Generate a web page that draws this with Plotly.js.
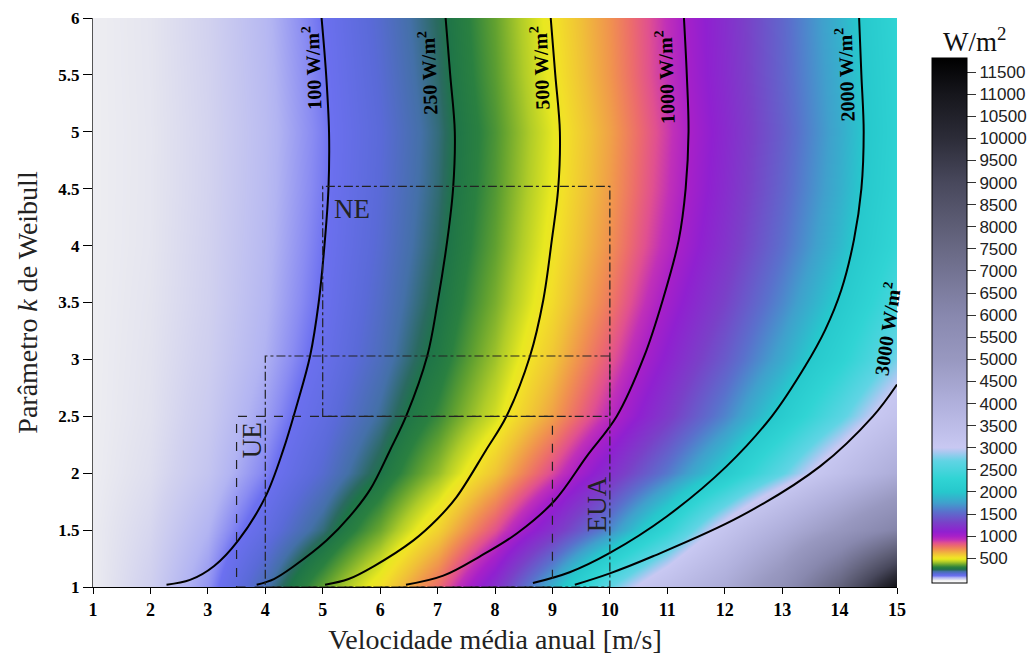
<!DOCTYPE html>
<html><head><meta charset="utf-8">
<script src="https://cdn.plot.ly/plotly-3.0.1.min.js"></script>
<style>html,body{margin:0;padding:0;background:#fff;} #chart{width:1036px;height:657px;}</style>
</head><body><div id="chart"></div>
<script>
// ---------- data ----------
const velocity = [1,2,3,4,5,6,7,8,9,10,11,12,13,14,15];
const weibullK = [1,1.5,2,2.5,3,3.5,4,4.5,5,5.5,6];
const powerK1_0 = [3, 28, 80, 190, 350, 520, 780, 1200, 1850, 2700, 3400, 4200, 5500, 7800, 11200];
const powerK1_5 = [3.5, 21, 60, 127, 223, 361, 557, 843, 1211, 1666, 2302, 3196, 4063, 5075, 6241];
const powerK2_0 = [2, 14, 41, 90, 160, 254, 395, 590, 864, 1195, 1588, 2061, 2674, 3368, 4142];
const powerK2_5 = [1.7, 11, 34, 73, 131, 208, 314, 457, 665, 943, 1262, 1637, 2090, 2640, 3267];
const powerK3_0 = [1.5, 10, 29, 62, 113, 180, 272, 405, 585, 833, 1123, 1440, 1808, 2246, 2762];
const powerK3_5 = [1.4, 9, 26, 57, 104, 168, 250, 372, 532, 753, 1026, 1315, 1652, 2044, 2514];
const powerK4_0 = [1.3, 8, 25, 54, 99, 158, 235, 350, 503, 702, 947, 1223, 1540, 1906, 2338];
const powerK4_5 = [1.25, 7.7, 24, 52, 95, 152, 226, 337, 484, 676, 912, 1180, 1488, 1845, 2268];
const powerK5_0 = [1.2, 7.6, 23.6, 51, 93, 149, 222, 331, 475, 663, 895, 1161, 1460, 1820, 2240];
const powerK5_5 = [1.3, 8, 24.5, 53, 97, 155, 231, 344, 494, 688, 920, 1182, 1488, 1840, 2260];
const powerK6_0 = [1.3, 8.3, 25.5, 55, 101, 161, 238, 353, 505, 698, 925, 1191, 1500, 1866, 2289];

// iso-power lines (v, k)
const contourLevels = [100, 250, 500, 1000, 2000, 3000];
const c100V  = [2.28, 2.69, 3.11, 3.53, 4.0, 4.31, 4.55, 4.78, 4.93, 5.03, 5.1, 5.11, 5.06, 4.98];
const c100K  = [1.02, 1.062, 1.185, 1.41, 1.79, 2.2, 2.6, 3.03, 3.5, 4.0, 4.5, 5.0, 5.5, 6.0];
const c250V  = [3.85, 4.15, 4.49, 5.07, 5.47, 5.83, 6.17, 6.46, 6.82, 7.0, 7.17, 7.27, 7.3, 7.22, 7.14];
const c250K  = [1.02, 1.07, 1.18, 1.41, 1.62, 1.86, 2.2, 2.51, 3.03, 3.5, 4.05, 4.5, 5.0, 5.5, 6.0];
const c500V  = [5.04, 5.45, 5.88, 6.58, 7.0, 7.33, 7.84, 8.2, 8.61, 8.84, 8.99, 9.1, 9.13, 9.05, 8.97];
const c500K  = [1.02, 1.07, 1.18, 1.41, 1.6, 1.79, 2.2, 2.5, 3.03, 3.52, 4.05, 4.5, 5.0, 5.5, 6.0];
const c1000V = [6.45, 7.1, 7.74, 8.38, 9.04, 9.6, 10.12, 10.6, 10.92, 11.2, 11.32, 11.37, 11.34, 11.29];
const c1000K = [1.02, 1.1, 1.27, 1.47, 1.76, 2.15, 2.5, 3.03, 3.52, 4.05, 4.5, 5.0, 5.5, 6.0];
const c2000V = [8.66, 9.3, 10.0, 10.99, 12.03, 12.82, 13.4, 13.75, 14.03, 14.25, 14.38, 14.42, 14.38, 14.34];
const c2000K = [1.035, 1.13, 1.30, 1.62, 2.06, 2.5, 2.94, 3.26, 3.61, 4.05, 4.5, 5.0, 5.5, 6.0];
const c3000V = [9.39, 10.0, 10.75, 12.27, 13.66, 14.58, 15.0];
const c3000K = [1.02, 1.12, 1.27, 1.62, 2.06, 2.5, 2.78];

// regions
const regionNames = ['NE', 'UE', 'EUA'];
const regionV0 = [5, 3.5, 4];
const regionV1 = [10, 9, 10];
const regionK0 = [2.5, 1, 1];
const regionK1 = [4.52, 2.5, 3.03];

// ticks
const xTicks = [1,2,3,4,5,6,7,8,9,10,11,12,13,14,15];
const yTicks = [1,1.5,2,2.5,3,3.5,4,4.5,5,5.5,6];
const cbTicks = [500,1000,1500,2000,2500,3000,3500,4000,4500,5000,5500,6000,6500,7000,7500,8000,8500,9000,9500,10000,10500,11000,11500];
const cbTickText = ['500','1000','1500','2000','2500','3000','3500','4000','4500','5000','5500','6000','6500','7000','7500','8000','8500','9000','9500','10000','10500','11000','11500'];

// ---------- colours ----------
const zMin = -60, zMax = 11820;
const csValues = [-60,0,10,25,60,85,100,150,200,235,255,300,350,420,480,520,600,700,780,850,920,1000,1100,1300,1550,1750,2000,2300,2700,2900,3000,4000,5000,6000,8000,9000,10000,11000,11820];
const csColors = ['#ffffff','#efeff2','#e3e3ef','#d2d2ef','#b2b4f2','#8a8cf2','#6c70f0','#5a6ad8','#4470a8','#2a6a60','#1e7448','#2a8040','#60a030','#b0cc28','#e8e820','#f2e028','#f0c038','#f09050','#ec6c6c','#e05090','#c030b8','#a820c8','#9020d0','#7a40c8','#5a70cc','#40a0cc','#26c8cc','#30d4d4','#60d4e4','#a8c8f0','#c8c8f2','#b0b0dc','#9898c0','#8888ae','#5e5e76','#48485c','#2c2c38','#16161c','#000000'];
const colorscale = csValues.map((v, i) => [(v - zMin) / (zMax - zMin), csColors[i]]);

const zGrid = [powerK1_0, powerK1_5, powerK2_0, powerK2_5, powerK3_0, powerK3_5, powerK4_0, powerK4_5, powerK5_0, powerK5_5, powerK6_0];

const serif = 'Liberation Serif, Times New Roman, serif';

const traces = [{
  type: 'heatmap', x: velocity, y: weibullK, z: zGrid,
  zmin: zMin, zmax: zMax, zsmooth: 'best', colorscale: colorscale, hoverinfo: 'skip',
  colorbar: {
    x: 1.0435, xanchor: 'left', xpad: 0, y: 0.4684, yanchor: 'middle', ypad: 0,
    len: 525, lenmode: 'pixels', thickness: 35, thicknessmode: 'pixels',
    outlinewidth: 1, outlinecolor: '#000', borderwidth: 0,
    tickmode: 'array', tickvals: cbTicks, ticktext: cbTickText, ticks: 'outside', ticklen: 9, tickcolor: '#333', tickwidth: 1,
    tickfont: {family: 'Liberation Sans, Arial, sans-serif', size: 17, color: '#222'}
  }
}];

const lineSets = [[c100V, c100K], [c250V, c250K], [c500V, c500K], [c1000V, c1000K], [c2000V, c2000K], [c3000V, c3000K]];
lineSets.forEach(([vx, ky]) => {
  traces.push({type: 'scatter', mode: 'lines', x: vx, y: ky, hoverinfo: 'skip', showlegend: false,
    line: {color: '#000', width: 2, shape: 'spline', smoothing: 1}});
});

// contour label placement (style, not data)
const labelPos = [[4.81, 5.56, -92], [6.82, 5.52, -92], [8.78, 5.56, -92], [10.96, 5.48, -92], [14.09, 5.5, -92], [14.81, 3.27, -82]];
const annotations = contourLevels.map((lv, i) => ({
  x: labelPos[i][0], y: labelPos[i][1], xref: 'x', yref: 'y', xanchor: 'center', yanchor: 'middle', showarrow: false,
  text: lv + ' W/m<sup>2</sup>', textangle: labelPos[i][2],
  font: {family: serif, size: 20, weight: 700, color: '#000'}
}));

const regionLabelPos = [[5.51, 4.32, 0], [3.77, 2.29, -90], [9.78, 1.73, -90]];
regionNames.forEach((nm, i) => {
  annotations.push({x: regionLabelPos[i][0], y: regionLabelPos[i][1], xref: 'x', yref: 'y', xanchor: 'center', yanchor: 'middle', showarrow: false,
    text: nm, textangle: regionLabelPos[i][2], font: {family: serif, size: 27, color: '#222'}});
});

annotations.push({x: 1.097, y: 0.9613, xref: 'paper', yref: 'paper', xanchor: 'center', yanchor: 'middle', showarrow: false,
  text: 'W/m<sup>2</sup>', font: {family: serif, size: 27, color: '#111'}});

const regionDash = ['dashdot', 'dash', 'dashdot'];
const shapes = regionNames.map((nm, i) => ({
  type: 'rect', xref: 'x', yref: 'y', x0: regionV0[i], x1: regionV1[i], y0: regionK0[i], y1: regionK1[i],
  line: {color: '#222', width: 1.2, dash: regionDash[i]}, fillcolor: 'rgba(0,0,0,0)', layer: 'above'
}));

const layout = {
  width: 1036, height: 657,
  margin: {l: 93, r: 139, t: 18, b: 70, pad: 0, autoexpand: false},
  paper_bgcolor: '#fff', plot_bgcolor: '#fff',
  showlegend: false,
  xaxis: {range: [1, 15], tickmode: 'array', tickvals: xTicks, ticks: 'outside', ticklen: 6, tickcolor: '#000',
    showline: true, linecolor: '#000', linewidth: 1, showgrid: false, zeroline: false,
    tickfont: {family: serif, size: 18, weight: 700, color: '#000'},
    title: {text: 'Velocidade média anual [m/s]', font: {family: serif, size: 28, color: '#222'}, standoff: 10}},
  yaxis: {range: [1, 6], tickmode: 'array', tickvals: yTicks, ticks: 'outside', ticklen: 9, tickcolor: '#000',
    showline: true, linecolor: '#555', linewidth: 1, showgrid: false, zeroline: false,
    tickfont: {family: serif, size: 17, weight: 700, color: '#000'},
    title: {text: 'Parâmetro <i>k</i> de Weibull', font: {family: serif, size: 28, color: '#222'}, standoff: 12}},
  annotations: annotations,
  shapes: shapes
};

Plotly.newPlot('chart', traces, layout, {displayModeBar: false, staticPlot: true});
</script>
</body></html>
